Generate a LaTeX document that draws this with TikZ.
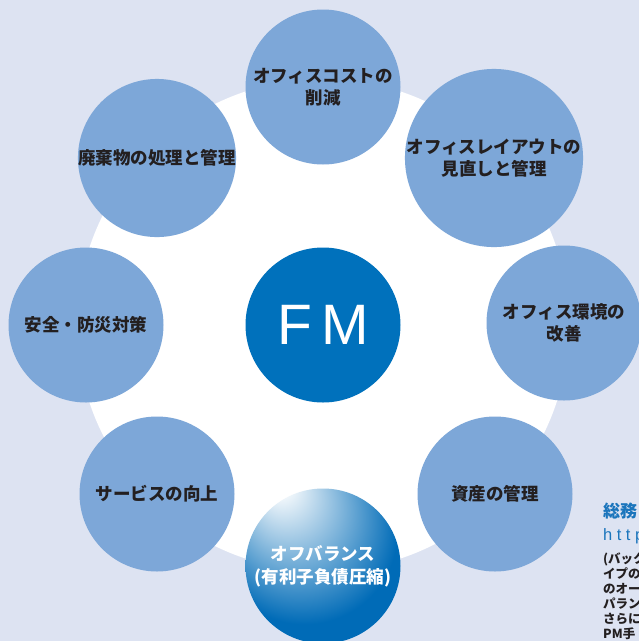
\documentclass[tikz,border=0pt]{standalone}
\usepackage{fontspec}
\newfontfamily\jp{Noto Sans CJK JP}
\newfontfamily\lat{Liberation Sans}
\definecolor{bgc}{HTML}{DDE3F2}
\definecolor{petal}{HTML}{7DA7D8}
\definecolor{fmblue}{HTML}{0071BC}
\definecolor{fmblue2}{HTML}{006BB7}
\definecolor{txt}{HTML}{231F20}
\definecolor{headblue}{HTML}{1B75BC}
\pgfdeclareradialshading{glow}{\pgfpoint{-15bp}{28bp}}{color(0bp)=(white); color(3bp)=(white!97!fmblue2); color(30bp)=(fmblue2); color(50bp)=(fmblue2)}
\tikzset{
  petal/.style={circle, fill=petal, minimum size=155pt, inner sep=0pt, text=txt,
    font=\jp\bfseries\fontsize{17.5}{22}\selectfont, align=center},
  hub/.style={circle, fill=fmblue, minimum size=155pt, inner sep=0pt, text=white,
    font=\lat\fontsize{57}{57}\selectfont},
  glowc/.style={circle, shading=glow, minimum size=155pt, inner sep=0pt, text=white,
    font=\jp\bfseries\fontsize{17.5}{23}\selectfont, align=center},
  side/.style={anchor=base west, inner sep=0pt},
  sidetxt/.style={side, text=txt, font=\jp\bfseries\fontsize{12.5}{14}\selectfont}
}
\begin{document}
\begin{tikzpicture}[x=1pt,y=-1pt]
\clip (0,0) rectangle (639,641);
\fill[bgc] (0,0) rectangle (639,641);
\fill[white] (323,325) circle[radius=246];
\node[petal] (top) at (323,87) {オフィスコストの\\削減};
\node[petal] (tl) at (157,158) {廃棄物の処理と管理};
\node[petal] (tr) at (494,158) {オフィスレイアウトの\\見直しと管理};
\node[petal] (l) at (86,325) {安全・防災対策};
\node[petal] (r) at (564,323) {オフィス環境の\\改善};
\node[petal] (bl) at (157,494) {サービスの向上};
\node[petal] (br) at (495,494) {資産の管理};
\node[hub] (fm) at (323,325) {F\hspace{9pt}M};
\node[glowc] (b) at (323,566) {オフバランス\\(有利子負債圧縮)};
\node[side, text=headblue, font=\jp\bfseries\fontsize{17}{17}\selectfont] (s1) at (603,517) {総務};
\node[side, text=headblue, font=\lat\fontsize{16.5}{16.5}\selectfont] (s2) at (603,540) {h\hspace{4.5pt}t\hspace{4.5pt}t\hspace{4.5pt}p};
\node[sidetxt] (s3) at (603,563) {(バック};
\node[sidetxt] (s4) at (603,578) {イプの};
\node[sidetxt] (s5) at (603,593) {のオー};
\node[sidetxt] (s6) at (603,608) {パラン};
\node[sidetxt] (s7) at (603,623) {さらに};
\node[sidetxt] (s8) at (603,638) {PM手};
\end{tikzpicture}
\end{document}
